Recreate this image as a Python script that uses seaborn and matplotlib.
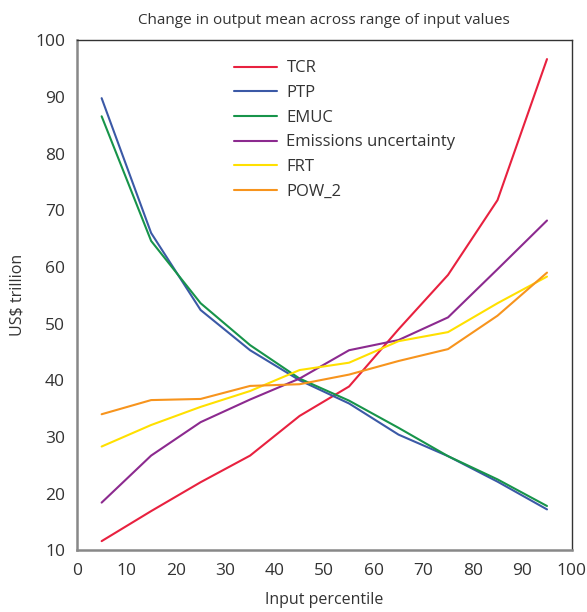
import pandas as pd
import matplotlib
matplotlib.use('Agg')
import matplotlib.pyplot as plt
import seaborn as sns

# Input percentiles
percentile = [5, 15, 25, 35, 45, 55, 65, 75, 85, 95]

# Output mean (US$ trillion) per input
tcr = [11.6, 16.9, 22.0, 26.7, 33.7, 38.9, 49.0, 58.6, 71.8, 96.7]
ptp = [89.8, 66.0, 52.4, 45.3, 40.0, 35.9, 30.4, 26.6, 22.1, 17.2]
emuc = [86.6, 64.6, 53.6, 46.2, 40.3, 36.4, 31.6, 26.6, 22.5, 17.8]
emissions = [18.4, 26.7, 32.6, 36.6, 40.3, 45.3, 47.1, 51.1, 59.6, 68.2]
frt = [28.3, 32.1, 35.3, 38.1, 41.8, 43.1, 46.9, 48.5, 53.6, 58.3]
pow2 = [34.0, 36.5, 36.7, 39.0, 39.3, 41.0, 43.4, 45.5, 51.4, 59.0]

series = {
    'TCR': tcr,
    'PTP': ptp,
    'EMUC': emuc,
    'Emissions uncertainty': emissions,
    'FRT': frt,
    'POW_2': pow2,
}
colors = ['#e8213f', '#3b59a6', '#17944a', '#8c2a8f', '#ffe000', '#f7941d']

rows = []
for name, vals in series.items():
    for p, v in zip(percentile, vals):
        rows.append({'percentile': p, 'value': v, 'input': name})
df = pd.DataFrame(rows)

sns.set_style('white')
plt.rcParams['font.family'] = ['Open Sans', 'DejaVu Sans']
plt.rcParams['text.color'] = '#333333'

fig = plt.figure(figsize=(5.87, 6.12), dpi=100)
ax = fig.add_axes([0.131, 0.101, 0.843, 0.833])

sns.lineplot(data=df, x='percentile', y='value', hue='input',
             palette=colors, linewidth=1.5, ax=ax)

ax.set_xlim(0, 100)
ax.set_ylim(10, 100)
ax.set_xticks(range(0, 101, 10))
ax.set_yticks(range(10, 101, 10))
ax.tick_params(direction='inout', length=5, width=1, colors='#555555',
               labelsize=12.5, labelcolor='#333333')
ax.tick_params(axis='x', pad=7)
ax.tick_params(axis='y', pad=6)
ax.set_xlabel('Input percentile', fontsize=11.5, color='#333333', labelpad=9)
ax.set_ylabel('US$ trillion', fontsize=11.5, color='#333333', labelpad=7)
ax.set_title('Change in output mean across range of input values',
             fontsize=11, color='#333333', pad=12)

for side in ['left', 'bottom']:
    ax.spines[side].set_color('#888888')
    ax.spines[side].set_linewidth(1.8)
for side in ['top', 'right']:
    ax.spines[side].set_color('#333333')
    ax.spines[side].set_linewidth(1.0)

ax.legend(title=None, frameon=False, loc='upper left',
          bbox_to_anchor=(0.287, 0.99), fontsize=12, handlelength=2.6,
          labelspacing=0.52, handletextpad=0.55)

fig.savefig('out.png', dpi=100)
